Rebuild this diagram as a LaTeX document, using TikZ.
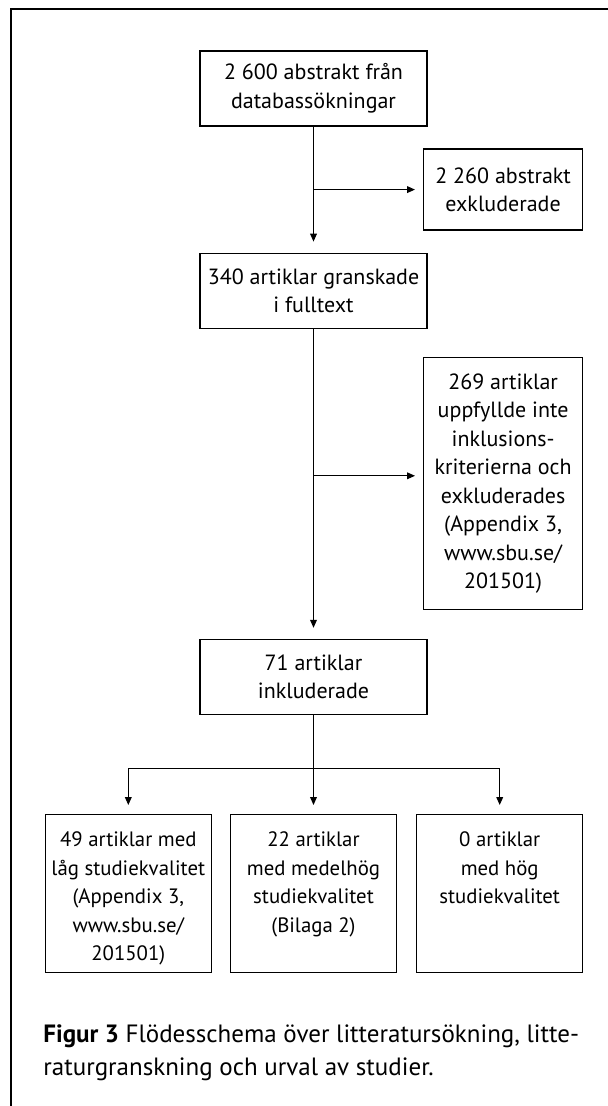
\documentclass[tikz,border=0pt]{standalone}
\usepackage{fontspec}
\setmainfont{PT Sans}
\usetikzlibrary{positioning, arrows.meta, calc}
\newcommand{\qtext}[1]{\parbox[c][79pt][t]{83pt}{\centering
  \fontsize{10.4}{14.25}\selectfont\rule{0pt}{16pt}#1}}

\begin{document}
\begin{tikzpicture}[
  x=0.5pt, y=-0.5pt,
  node distance=9pt and 9pt,
  font=\fontsize{11}{14.25}\selectfont,
  box/.style={draw, line width=0.6pt, align=center, inner sep=0pt,
              minimum width=113.5pt, minimum height=37.5pt},
  sidebox/.style={draw, line width=0.6pt, align=center, inner sep=0pt,
                  minimum width=79.5pt},
  qbox/.style={draw, line width=0.6pt, inner sep=0pt},
  arr/.style={-{Triangle[length=4pt, width=3.4pt]}, line width=0.5pt,
              shorten >=5.5pt},
]
\useasboundingbox (0,0) rectangle (608,1106);
\draw[line width=0.6pt] (11,1106) -- (11,9) -- (608,9);

\node[box] (srch) at (313.5,88.5) {2~600 abstrakt från\\databassökningar};
\node[box, below=63pt of srch] (full) {340 artiklar granskade\\i fulltext};
\node[box, below=155pt of full] (incl) {71 artiklar\\inkluderade};
\coordinate (j1) at ($(srch.south)!0.5!(full.north)$);
\coordinate (j2) at ($(full.south)!0.5!(incl.north)$);
\node[sidebox, minimum height=40.5pt, right=54.75pt of j1] (abex)
  {2~260 abstrakt\\exkluderade};
\node[sidebox, minimum height=126pt, right=54.75pt of j2] (artex)
  {269 artiklar\\uppfyllde inte\\inklusions-\\kriterierna och\\exkluderades\\(Appendix 3,\\www.sbu.se/\\201501)};

\node[qbox, below=49.5pt of incl] (mid)
  {\qtext{22 artiklar\\med medelhög\\studiekvalitet\\(Bilaga 2)}};
\node[qbox, left=9pt of mid] (low)
  {\qtext{49 artiklar med\\låg studiekvalitet\\(Appendix 3,\\www.sbu.se/\\201501)}};
\node[qbox, right=9.5pt of mid] (high)
  {\qtext{0 artiklar\\med hög\\studiekvalitet}};
\coordinate (j3) at ([yshift=-26.5pt]incl.south);

\draw[arr] (srch) -- (full);
\draw[arr, shorten >=4pt] (j1) -- (abex);
\draw[arr] (full) -- (incl);
\draw[arr, shorten >=4pt] ([yshift=4pt]j2) -- ([yshift=4pt]j2 -| artex.west);
\draw[line width=0.5pt] (j3 -| low) -- (j3 -| high);
\draw[arr, shorten >=4.5pt] (incl) -- (mid);
\draw[arr, shorten >=4.5pt] (j3 -| low) -- (low);
\draw[arr, shorten >=4.5pt] (j3 -| high) -- (high);

\node[anchor=north west, align=left, inner sep=0pt,
      font=\fontsize{12.5}{16.5}\selectfont] (cap) at (43,1024)
  {\textbf{Figur 3} Flödesschema över litteratursökning, litte-\\
   raturgranskning och urval av studier.};
\end{tikzpicture}
\end{document}
